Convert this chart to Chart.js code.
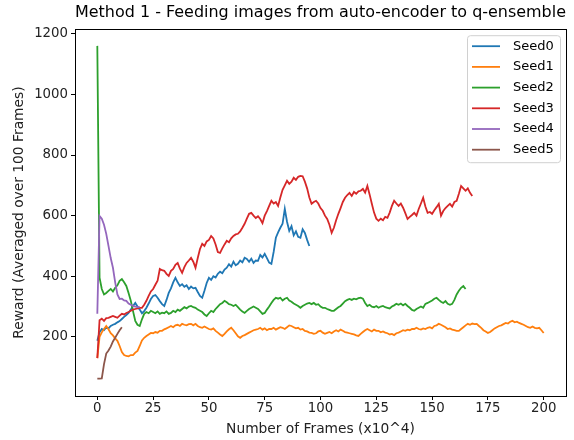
<!DOCTYPE html>
<html>
<head>
<meta charset="utf-8">
<script src="https://cdn.jsdelivr.net/npm/chart.js@4.4.1/dist/chart.umd.min.js"></script>
<style>
    html, body { margin: 0; padding: 0; background: #fff; }
    #wrap { width: 574px; height: 440px; }
</style>
</head>
<body>
<div id="wrap"><canvas id="rewardChart"></canvas></div>
<script>
// Reward values, one per 10^4 frames (x = index)
const seed0 = [187, 215, 226, 222, 231, 228, 236, 240, 243, 248, 252, 259, 266, 272, 279, 290, 302, 312, 300, 290,
    278, 285, 296, 310, 325, 335, 338, 329, 318, 308, 302, 322, 345, 360, 380, 395, 380, 368, 374, 365,
    370, 358, 366, 360, 362, 348, 335, 329, 352, 378, 395, 388, 400, 396, 408, 415, 410, 422, 428, 440,
    432, 448, 436, 441, 452, 446, 461, 457, 448, 458, 444, 452, 451, 470, 462, 474, 460, 445, 441, 480,
    527, 545, 560, 573, 622, 580, 550, 565, 535, 548, 530, 527, 555, 543, 520, 500];

const seed1 = [130, 200, 215, 226, 236, 225, 212, 205, 195, 187, 170, 150, 140, 137, 136, 140, 140, 148, 154, 170,
    188, 197, 203, 208, 213, 212, 216, 214, 220, 220, 225, 228, 232, 236, 232, 238, 240, 236, 243, 240,
    238, 242, 243, 238, 243, 236, 232, 230, 234, 230, 226, 224, 228, 220, 214, 208, 203, 210, 218, 225,
    230, 222, 212, 202, 197, 203, 206, 210, 214, 218, 222, 224, 226, 230, 224, 228, 222, 226, 226, 230,
    224, 228, 232, 230, 226, 232, 238, 236, 232, 228, 230, 224, 226, 220, 218, 214, 213, 210, 212, 218,
    220, 214, 210, 213, 216, 212, 218, 222, 218, 224, 220, 216, 214, 212, 210, 208, 205, 203, 210, 216,
    222, 226, 222, 218, 224, 220, 220, 215, 218, 214, 212, 208, 210, 206, 212, 214, 218, 222, 220, 224,
    222, 226, 226, 230, 226, 224, 228, 226, 230, 232, 228, 236, 238, 243, 240, 236, 232, 226, 228, 224,
    222, 220, 220, 226, 232, 238, 243, 240, 244, 242, 243, 236, 230, 222, 218, 213, 216, 222, 228, 232,
    236, 238, 242, 246, 244, 250, 253, 248, 250, 246, 243, 240, 236, 232, 230, 234, 230, 228, 230, 222,
    213];

const seed2 = [1160, 395, 358, 340, 345, 352, 358, 350, 362, 370, 385, 391, 380, 368, 345, 319, 285, 253, 240, 236,
    258, 276, 282, 278, 286, 282, 278, 284, 276, 280, 278, 284, 276, 279, 286, 282, 290, 286, 292, 298,
    294, 300, 302, 298, 296, 290, 286, 282, 274, 269, 278, 286, 282, 292, 300, 308, 312, 319, 314, 308,
    306, 302, 306, 298, 290, 284, 279, 286, 292, 296, 300, 296, 292, 284, 276, 279, 290, 300, 312, 322,
    329, 326, 329, 320, 326, 329, 320, 316, 310, 306, 302, 296, 302, 306, 310, 312, 308, 312, 306, 308,
    300, 296, 296, 292, 289, 286, 286, 292, 298, 302, 310, 318, 322, 325, 322, 326, 324, 328, 329, 326,
    312, 302, 306, 300, 298, 302, 296, 300, 302, 298, 296, 294, 300, 304, 309, 306, 310, 304, 309, 302,
    296, 289, 286, 292, 296, 300, 296, 309, 312, 316, 320, 326, 329, 322, 316, 312, 318, 309, 306, 309,
    322, 340, 352, 362, 368, 358];

const seed3 = [130, 255, 260, 253, 262, 263, 266, 269, 266, 263, 270, 276, 274, 279, 282, 286, 290, 292, 294, 296,
    296, 306, 319, 335, 350, 358, 372, 385, 424, 420, 418, 408, 401, 418, 424, 438, 444, 425, 411, 430,
    444, 452, 461, 448, 428, 460, 490, 507, 500, 515, 520, 533, 525, 505, 480, 477, 492, 505, 517, 512,
    525, 533, 538, 540, 548, 560, 573, 590, 606, 609, 600, 592, 598, 589, 575, 600, 615, 632, 649, 640,
    645, 632, 660, 685, 700, 715, 705, 712, 725, 718, 728, 731, 730, 712, 690, 660, 639, 645, 649, 640,
    625, 616, 600, 589, 570, 543, 560, 585, 606, 625, 645, 659, 668, 675, 665, 678, 672, 680, 682, 688,
    676, 698, 670, 639, 610, 590, 583, 590, 585, 596, 593, 610, 632, 649, 640, 632, 640, 626, 608, 589,
    596, 602, 609, 600, 622, 640, 659, 630, 609, 612, 606, 618, 628, 639, 600, 615, 625, 632, 639, 630,
    645, 649, 672, 698, 690, 682, 690, 675, 665];

const seed4 = [276, 599, 590, 570, 540, 500, 460, 428, 380, 340, 325, 326, 320, 319, 310, 306, 302, 300, 298, 299];

const seed5 = [62, 62, 63, 110, 145, 155, 168, 185, 197, 210, 222, 232];

const seedNames = ['Seed0', 'Seed1', 'Seed2', 'Seed3', 'Seed4', 'Seed5'];
const seedColors = ['#1f77b4', '#ff7f0e', '#2ca02c', '#d62728', '#9467bd', '#8c564b'];
const xTicks = [0, 25, 50, 75, 100, 125, 150, 175, 200];
const yTicks = [200, 400, 600, 800, 1000, 1200];

document.addEventListener('DOMContentLoaded', function() {
    const font = 'DejaVu Sans';
    const series = [seed0, seed1, seed2, seed3, seed4, seed5];

    // Frame box on all four sides, like matplotlib
    const frameBox = {
        id: 'frameBox',
        afterDatasetsDraw(chart) {
            const {ctx, chartArea: a} = chart;
            ctx.save();
            ctx.strokeStyle = '#000';
            ctx.lineWidth = 1;
            ctx.strokeRect(Math.round(a.left) + 0.5, Math.round(a.top) + 0.5,
                Math.round(a.right - a.left), Math.round(a.bottom - a.top));
            ctx.restore();
        }
    };

    // Legend box inside the plot, top right
    const innerLegend = {
        id: 'innerLegend',
        afterDraw(chart) {
            const ctx = chart.ctx;
            const a = chart.chartArea;
            const boxW = 93, boxH = 127;
            const left = a.right - 6 - boxW, top = a.top + 6;
            ctx.save();
            ctx.beginPath();
            ctx.roundRect(left + 0.5, top + 0.5, boxW, boxH, 3);
            ctx.fillStyle = 'rgba(255,255,255,0.8)';
            ctx.fill();
            ctx.strokeStyle = '#d0d0d0';
            ctx.lineWidth = 1;
            ctx.stroke();
            ctx.font = '13px "' + font + '"';
            ctx.textBaseline = 'middle';
            chart.data.datasets.forEach((ds, i) => {
                const y = top + 11 + i * 20.7;
                ctx.strokeStyle = ds.borderColor;
                ctx.lineWidth = 1.8;
                ctx.beginPath();
                ctx.moveTo(left + 5, y);
                ctx.lineTo(left + 33, y);
                ctx.stroke();
                ctx.fillStyle = '#000';
                ctx.fillText(ds.label, left + 46, y);
            });
            ctx.restore();
        }
    };

    new Chart(document.getElementById('rewardChart'), {
        type: 'line',
        data: {
            datasets: series.map((values, i) => ({
                label: seedNames[i],
                data: values.map((v, x) => ({x: x, y: v})),
                borderColor: seedColors[i],
                backgroundColor: seedColors[i],
                borderWidth: 1.8,
                pointRadius: 0,
                tension: 0,
                order: series.length - 1 - i
            }))
        },
        options: {
            responsive: true,
            maintainAspectRatio: false,
            animation: false,
            layout: { padding: { left: 0, right: 8, top: 0, bottom: 0 } },
            scales: {
                x: {
                    type: 'linear',
                    min: -10,
                    max: 210,
                    afterBuildTicks: (scale) => { scale.ticks = xTicks.map(v => ({value: v})); },
                    afterFit: (scale) => { scale.height = 44; },
                    grid: { drawOnChartArea: false, drawTicks: true, tickLength: 4, color: '#000' },
                    border: { display: true, color: '#000' },
                    ticks: { color: '#222', padding: 1, maxRotation: 0, font: { family: font, size: 13.3 } },
                    title: {
                        display: true,
                        text: 'Number of Frames (x10^4)',
                        color: '#222',
                        padding: { top: 0, bottom: 2 },
                        font: { family: font, size: 13.8 }
                    }
                },
                y: {
                    min: 5,
                    max: 1215,
                    afterBuildTicks: (scale) => { scale.ticks = yTicks.map(v => ({value: v})); },
                    afterFit: (scale) => { scale.width = 75; },
                    grid: { drawOnChartArea: false, drawTicks: true, tickLength: 4, color: '#000' },
                    border: { display: true, color: '#000' },
                    ticks: {
                        color: '#222',
                        padding: 3,
                        font: { family: font, size: 13.3 },
                        callback: (v) => String(v)
                    },
                    title: {
                        display: true,
                        text: 'Reward (Averaged over 100 Frames)',
                        color: '#222',
                        padding: { top: 11, bottom: 0 },
                        font: { family: font, size: 13.8 }
                    }
                }
            },
            plugins: {
                legend: { display: false },
                tooltip: { enabled: false },
                title: {
                    display: true,
                    fullSize: false,
                    text: 'Method 1 - Feeding images from auto-encoder to q-ensemble',
                    color: '#000',
                    padding: { top: 3, bottom: 7 },
                    font: { family: font, size: 16, weight: 'normal' }
                }
            }
        },
        plugins: [frameBox, innerLegend]
    });
});
</script>
</body>
</html>
